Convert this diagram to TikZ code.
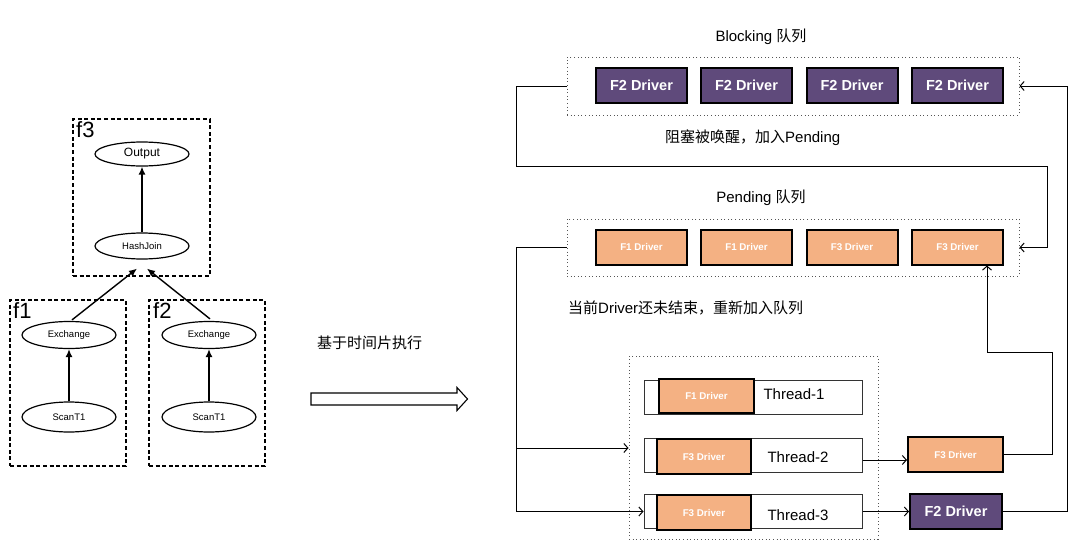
\documentclass[tikz,border=0pt]{standalone}
\usepackage{fontspec}
\setmainfont{Liberation Sans}
\newfontfamily\cjk{Noto Sans CJK SC}
\usetikzlibrary{arrows.meta,calc,shapes.geometric}
\definecolor{drvpurple}{HTML}{5F4A7B}
\definecolor{drvorange}{HTML}{F4B183}
\definecolor{dotgray}{HTML}{555555}
\begin{document}
\begin{tikzpicture}[x=1pt,y=-1pt,
  frag/.style={draw,line width=1.1pt,dash pattern=on 4pt off 2.6pt,minimum width=#1,inner sep=0pt},
  flabel/.style={anchor=north west,inner sep=0pt,font=\fontsize{22}{24}\selectfont},
  op/.style={draw,ellipse,line width=1.2pt,minimum width=94pt,minimum height=#1,inner sep=0pt,font=\fontsize{9.5}{11}\selectfont},
  oparr/.style={line width=1.4pt,-{Latex[length=8pt,width=7pt]}},
  queuebox/.style={draw=dotgray,line width=1pt,dash pattern=on 1pt off 2.6pt,inner sep=0pt},
  bigdrv/.style={draw=black,line width=2pt,fill=drvpurple,text=white,minimum width=91pt,minimum height=35pt,inner sep=0pt,font=\bfseries\fontsize{14.5}{16}\selectfont},
  smalldrv/.style={draw=black,line width=2pt,fill=drvorange,text=white,minimum height=35pt,inner sep=0pt,font=\bfseries\fontsize{9.8}{11}\selectfont},
  thread/.style={draw=black!80,line width=1pt,fill=white,minimum width=218pt,minimum height=34pt,inner sep=0pt},
  tlabel/.style={inner sep=0pt,font=\fontsize{15}{17}\selectfont},
  note/.style={inner sep=0pt,font=\fontsize{15}{17}\selectfont},
  flow/.style={line width=1pt,-{Straight Barb[length=4pt,width=9pt]}}
]
\useasboundingbox (0,0) rectangle (1080,541);

% ---------------- left: fragments ----------------
\node[frag=137pt,minimum height=157pt] (f3) at (141.5,197.5) {};
\node[frag=116pt,minimum height=166pt] (f1) at (68,383) {};
\node[frag=116pt,minimum height=166pt] (f2) at (207,383) {};
\node[flabel] (f3l) at (76,121) {f3};
\node[flabel] (f1l) at (13,302) {f1};
\node[flabel] (f2l) at (153,302) {f2};

\node[op=24pt,font=\fontsize{12}{14}\selectfont] (out) at (142,154) {Output};
\node[op=26pt] (hj) at (142,246) {HashJoin};
\node[op=27pt] (ex1) at (69,335) {Exchange};
\node[op=27pt] (ex2) at (209,335) {Exchange};
\node[op=30pt] (sc1) at (69,417) {ScanT1};
\node[op=30pt] (sc2) at (209,417) {ScanT1};

\coordinate (hjin1) at ($(hj.south)+(-5,9)$);
\coordinate (hjin2) at ($(hj.south)+(5,9)$);
\coordinate (ex1t) at ($(ex1.north)+(3,-1)$);
\coordinate (ex2t) at ($(ex2.north)+(1,-2)$);
\draw[oparr] (hj) -- (out);
\draw[oparr] (ex1t) -- (hjin1);
\draw[oparr] (ex2t) -- (hjin2);
\draw[oparr] (sc1) -- (ex1);
\draw[oparr] (sc2) -- (ex2);

% ---------------- middle arrow ----------------
\node[note,anchor=west] (slice) at (317,343) {\cjk 基于时间片执行};
\draw[line width=1.1pt] (311,393) -- (457,393) -- (457,387.5) -- (467.5,399) -- (457,410.5) -- (457,405) -- (311,405) -- cycle;

% ---------------- right: blocking queue ----------------
\node[note] (blabel) at (761,37) {Blocking {\cjk 队列}};
\node[queuebox,minimum width=452pt,minimum height=58pt] (bq) at (793,86) {};
\node[bigdrv] (b1) at (641.5,85.5) {F2 Driver};
\node[bigdrv] (b2) at (746.5,85.5) {F2 Driver};
\node[bigdrv] (b3) at (852,85.5) {F2 Driver};
\node[bigdrv] (b4) at (957.5,85.5) {F2 Driver};
\node[note,anchor=west] (wake) at (665,138) {{\cjk 阻塞被唤醒，加入}Pending};

% ---------------- pending queue ----------------
\node[note] (plabel) at (761,198) {Pending {\cjk 队列}};
\node[queuebox,minimum width=452pt,minimum height=57pt] (pq) at (793,247.5) {};
\node[smalldrv,minimum width=91pt] (p1) at (641.5,247) {F1 Driver};
\node[smalldrv,minimum width=91pt] (p2) at (746.5,247) {F1 Driver};
\node[smalldrv,minimum width=91pt] (p3) at (852,247) {F3 Driver};
\node[smalldrv,minimum width=91pt] (p4) at (957.5,247) {F3 Driver};
\node[note,anchor=west] (again) at (568,308) {{\cjk 当前}Driver{\cjk 还未结束，重新加入队列}};

% ---------------- threads ----------------
\node[queuebox,minimum width=249pt,minimum height=183pt] (tq) at (753.5,447.5) {};
\node[thread] (t1) at (753,397) {};
\node[thread] (t2) at (753,455) {};
\node[thread] (t3) at (753,511.5) {};
\node[smalldrv,minimum width=95pt,minimum height=34pt] (t1d) at (706.5,396) {F1 Driver};
\node[smalldrv,minimum width=94pt] (t2d) at (704,456.5) {F3 Driver};
\node[smalldrv,minimum width=94pt] (t3d) at (704,512.5) {F3 Driver};
\node[tlabel] (t1l) at (794,394) {Thread-1};
\node[tlabel] (t2l) at (798,457) {Thread-2};
\node[tlabel] (t3l) at (798,515) {Thread-3};

\node[smalldrv,minimum width=95pt] (o3) at (955.5,454.5) {F3 Driver};
\node[bigdrv,minimum width=92pt] (o2) at (956,511.5) {F2 Driver};

% ---------------- connectors ----------------
\coordinate (pl) at ($(pq.west)+(-50,0)$);
\coordinate (pbranch) at (pl |- 0,448);
\draw[flow] (bq.west) -- ++(-50,0) |- (1047,166) |- (pq.east);
\draw[flow] (pq.west) -- (pl) |- (t3.west);
\draw[flow] (pbranch) -- (tq.west |- pbranch);
\draw[flow] ([yshift=-5pt]t2.east) -- ([yshift=-5.5pt]o3.west);
\draw[flow] (o3.east) -- (1052,454.5) -- (1052,352) -| ([xshift=29.5pt]p4.south);
\draw[flow] (t3.east) -- (o2.west);
\draw[flow] (o2.east) -- (1067,511.5) |- (bq.east);
\end{tikzpicture}
\end{document}
